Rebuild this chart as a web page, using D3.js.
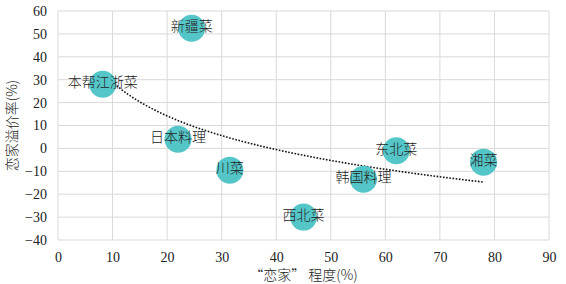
<!DOCTYPE html>
<html>
<head>
<meta charset="utf-8">
<script src="https://cdn.jsdelivr.net/npm/d3@7"></script>
<style>
  body { margin: 0; background: #fff; }
  text { fill: #222; }
  .num { font-family: "Times New Roman", "Liberation Serif", "DejaVu Serif", serif; font-size: 14px; }
</style>
</head>
<body>
<svg id="chart" width="566" height="284"></svg>
<script>
// Cuisine names and their values
const cuisines = ['新疆菜', '本帮江浙菜', '日本料理', '川菜', '西北菜', '韩国料理', '东北菜', '湘菜'];
const homeDegree = [24.5, 8.2, 22, 31.5, 45, 56, 62, 78];       // “恋家”程度(%)
const premiumRate = [52.5, 28, 4, -9.5, -30, -13.5, -1, -6];    // 恋家溢价率(%)
const xTicks = [0, 10, 20, 30, 40, 50, 60, 70, 80, 90];
const yTicks = [-40, -30, -20, -10, 0, 10, 20, 30, 40, 50, 60];

const margin = { top: 11, right: 17, bottom: 44, left: 58 };
const width = 566, height = 284;
const svg = d3.select('#chart');

const x = d3.scaleLinear().domain([0, 90]).range([margin.left, width - margin.right]);
const y = d3.scaleLinear().domain([-40, 60]).range([height - margin.bottom, margin.top]);

const cjkFont = '"Noto Sans CJK SC", sans-serif';

// Grid lines
const grid = svg.append('g').attr('class', 'grid');
grid.selectAll('.vline').data(xTicks).enter().append('line')
    .attr('x1', d => x(d)).attr('x2', d => x(d))
    .attr('y1', y(60)).attr('y2', y(-40))
    .attr('stroke', '#d9d9d9').attr('stroke-width', 1);
grid.selectAll('.hline').data(yTicks).enter().append('line')
    .attr('x1', x(0)).attr('x2', x(90))
    .attr('y1', d => y(d)).attr('y2', d => y(d))
    .attr('stroke', '#d9d9d9').attr('stroke-width', 1);

// Axes (labels only, no domain line)
const xAxis = svg.append('g')
    .attr('transform', `translate(0,${y(-40)})`)
    .call(d3.axisBottom(x).tickValues(xTicks).tickSize(0).tickPadding(12));
const yAxis = svg.append('g')
    .attr('transform', `translate(${x(0)},0)`)
    .call(d3.axisLeft(y).tickValues(yTicks).tickSize(0).tickPadding(11)
        .tickFormat(d => d < 0 ? '\u2212' + Math.abs(d) : d));
[xAxis, yAxis].forEach(a => {
    a.attr('font-family', null).attr('font-size', null);
    a.select('.domain').remove();
    a.selectAll('text').attr('class', 'num').attr('fill', '#222');
});

// Logarithmic trendline, least squares fit on ln(x)
const lx = homeDegree.map(Math.log);
const mx = d3.mean(lx), my = d3.mean(premiumRate);
let sxy = 0, sxx = 0;
lx.forEach((v, i) => { sxy += (v - mx) * (premiumRate[i] - my); sxx += (v - mx) * (v - mx); });
const b = sxy / sxx, a = my - b * mx;
const [xmin, xmax] = d3.extent(homeDegree);
const trend = d3.range(0, 61).map(i => {
    const xv = xmin + (xmax - xmin) * i / 60;
    return { xv, yv: a + b * Math.log(xv) };
});
svg.append('path')
    .datum(trend)
    .attr('d', d3.line().x(d => x(d.xv)).y(d => y(d.yv)))
    .attr('fill', 'none')
    .attr('stroke', '#111')
    .attr('stroke-width', 1.6)
    .attr('stroke-dasharray', '1.6,1.6');

// Bubbles
const pts = cuisines.map((name, i) => ({ name, xv: homeDegree[i], yv: premiumRate[i] }));
svg.selectAll('.dot').data(pts).enter().append('circle')
    .attr('class', 'dot')
    .attr('cx', d => x(d.xv))
    .attr('cy', d => y(d.yv))
    .attr('r', 13.5)
    .attr('fill', '#55c6c8');

// Labels centered on the bubbles
svg.selectAll('.lbl').data(pts).enter().append('text')
    .attr('class', 'lbl')
    .attr('x', d => x(d.xv))
    .attr('y', d => y(d.yv) - 2)
    .attr('dy', '0.35em')
    .attr('text-anchor', 'middle')
    .style('font-family', cjkFont)
    .attr('font-weight', 300)
    .attr('font-size', 14)
    .text(d => d.name);

// Axis titles
svg.append('text')
    .attr('x', (x(0) + x(90)) / 2)
    .attr('y', 275)
    .attr('dy', '0.35em')
    .attr('text-anchor', 'middle')
    .style('font-family', cjkFont)
    .attr('font-weight', 300)
    .attr('font-size', 14)
    .text('“恋家” 程度(%)');
svg.append('text')
    .attr('transform', `translate(12,${(y(60) + y(-40)) / 2}) rotate(-90)`)
    .attr('dy', '0.35em')
    .attr('text-anchor', 'middle')
    .style('font-family', cjkFont)
    .attr('font-weight', 300)
    .attr('font-size', 14)
    .text('恋家溢价率(%)');
</script>
</body>
</html>
